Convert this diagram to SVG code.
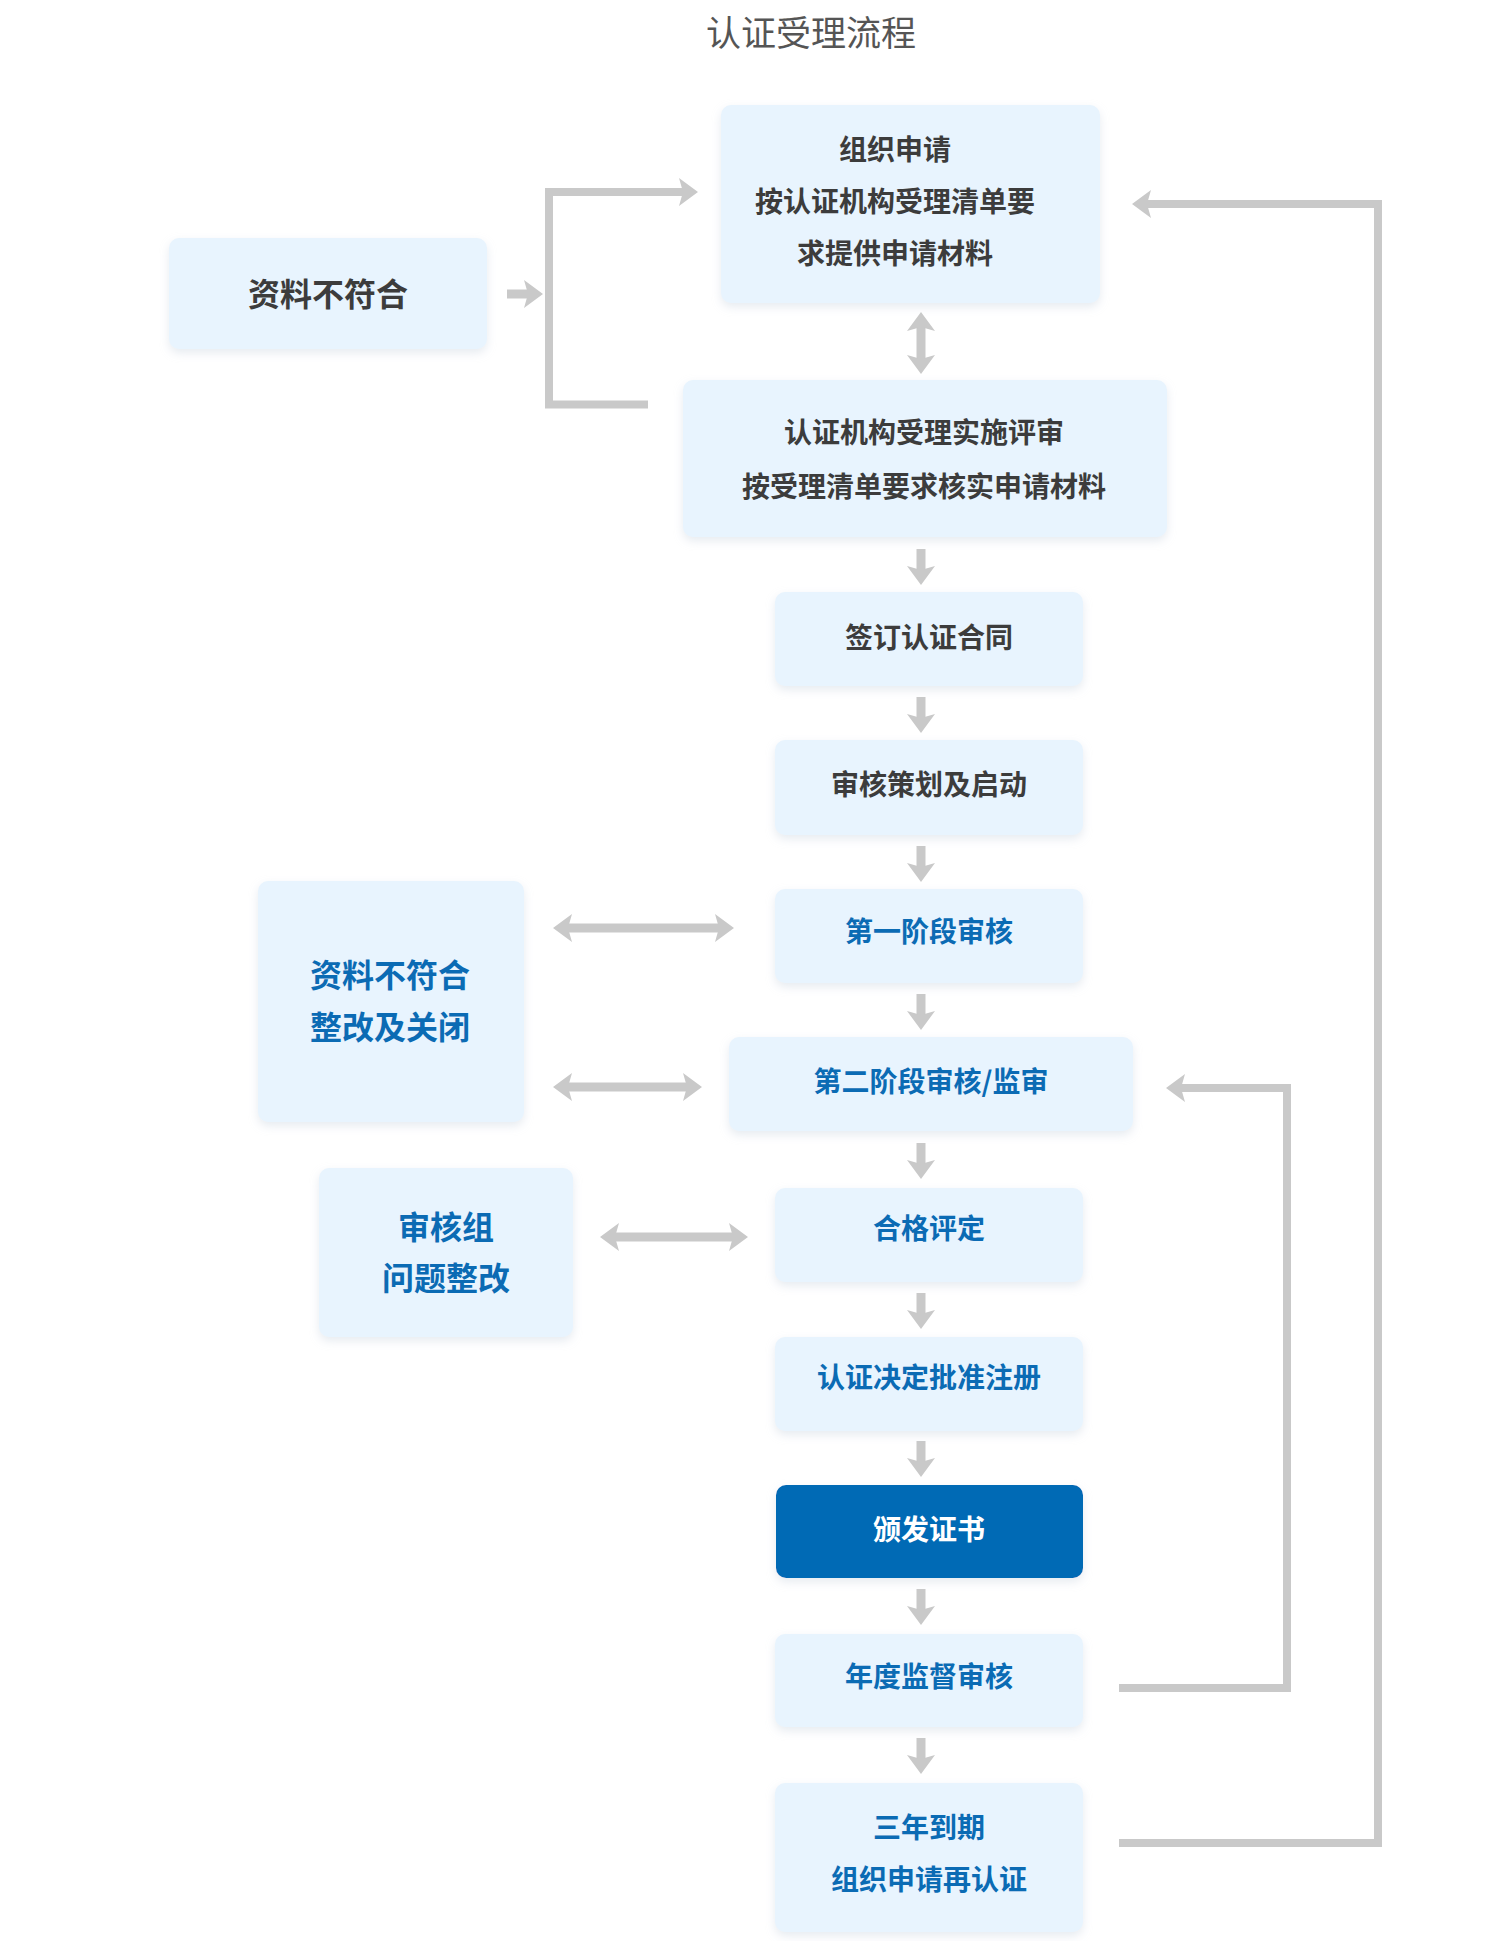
<svg xmlns="http://www.w3.org/2000/svg" width="1500" height="1941" viewBox="0 0 1500 1941">
<style>
.box{fill:#E8F4FE;filter:url(#sh)}
.dark{fill:#006AB5;filter:url(#sh)}
text{font-family:"Noto Sans CJK SC","Noto Sans",sans-serif;text-anchor:middle;dominant-baseline:central;font-weight:bold}
.t28{font-size:28px}
.t32{font-size:32px}
.g{fill:#3C3C3C}
.b{fill:#0B6BB4}
.w{fill:#FFFFFF}
.title{font-size:35px;font-weight:normal;fill:#555555}
.ln{fill:none;stroke:#C9C9C9;stroke-width:8;stroke-linejoin:miter}
.ar{fill:none;stroke:#C9C9C9;stroke-width:9}
.e{marker-end:url(#ah)}
.s{marker-start:url(#ah)}
</style>
<defs>
<filter id="sh" x="-10%" y="-10%" width="120%" height="130%">
<feDropShadow dx="0" dy="4" stdDeviation="5" flood-color="#B9C6D4" flood-opacity="0.35"/>
</filter>
<marker id="ah" viewBox="0 -14 19 28" refX="4" refY="0" markerWidth="19" markerHeight="28" markerUnits="userSpaceOnUse" orient="auto-start-reverse">
<path d="M19 0 L0 -14 L4 0 L0 14 Z" fill="#C9C9C9"/>
</marker>
</defs>

<text class="title" x="811" y="30">认证受理流程</text>

<g id="connectors">
<line class="ar e" x1="507" y1="294" x2="528" y2="294"/>
<polyline class="ln e" points="648,404.5 549,404.5 549,192 683,192"/>
<line class="ar e s" x1="921" y1="327" x2="921" y2="359"/>
<polyline class="ln e" points="1119,1843 1378,1843 1378,204 1147,204"/>
<polyline class="ln e" points="1119,1688 1287,1688 1287,1088 1181,1088"/>
<line class="ar e s" x1="568" y1="928" x2="719" y2="928"/>
<line class="ar e s" x1="568" y1="1087" x2="687" y2="1087"/>
<line class="ar e s" x1="615" y1="1237" x2="733" y2="1237"/>
<line class="ar e" x1="921" y1="549" x2="921" y2="570"/>
<line class="ar e" x1="921" y1="697" x2="921" y2="718"/>
<line class="ar e" x1="921" y1="846" x2="921" y2="867"/>
<line class="ar e" x1="921" y1="994" x2="921" y2="1015"/>
<line class="ar e" x1="921" y1="1143" x2="921" y2="1164"/>
<line class="ar e" x1="921" y1="1293" x2="921" y2="1314"/>
<line class="ar e" x1="921" y1="1441" x2="921" y2="1462"/>
<line class="ar e" x1="921" y1="1589" x2="921" y2="1610"/>
<line class="ar e" x1="921" y1="1738" x2="921" y2="1759"/>
</g>

<g id="n-reject1">
<rect class="box" x="169" y="238" width="318" height="111" rx="10"/>
<text class="t32 g" x="328" y="292">资料不符合</text>
</g>
<g id="n-apply">
<rect class="box" x="721" y="105" width="379" height="198" rx="10"/>
<text class="t28 g" x="895" y="148">组织申请</text>
<text class="t28 g" x="895" y="200">按认证机构受理清单要</text>
<text class="t28 g" x="895" y="252">求提供申请材料</text>
</g>
<g id="n-review">
<rect class="box" x="683" y="380" width="484" height="157" rx="10"/>
<text class="t28 g" x="924" y="431">认证机构受理实施评审</text>
<text class="t28 g" x="924" y="485">按受理清单要求核实申请材料</text>
</g>
<g id="n-contract">
<rect class="box" x="775" y="592" width="308" height="94" rx="10"/>
<text class="t28 g" x="929" y="636">签订认证合同</text>
</g>
<g id="n-plan">
<rect class="box" x="775" y="740" width="308" height="95" rx="10"/>
<text class="t28 g" x="929" y="783">审核策划及启动</text>
</g>
<g id="n-stage1">
<rect class="box" x="775" y="889" width="308" height="94" rx="10"/>
<text class="t28 b" x="929" y="930">第一阶段审核</text>
</g>
<g id="n-stage2">
<rect class="box" x="729" y="1037" width="404" height="94" rx="10"/>
<text class="t28 b" x="931" y="1080">第二阶段审核/监审</text>
</g>
<g id="n-eval">
<rect class="box" x="775" y="1188" width="308" height="94" rx="10"/>
<text class="t28 b" x="929" y="1227">合格评定</text>
</g>
<g id="n-decide">
<rect class="box" x="775" y="1337" width="308" height="94" rx="10"/>
<text class="t28 b" x="929" y="1376">认证决定批准注册</text>
</g>
<g id="n-issue">
<rect class="dark" x="776" y="1485" width="307" height="93" rx="10"/>
<text class="t28 w" x="929" y="1528">颁发证书</text>
</g>
<g id="n-annual">
<rect class="box" x="775" y="1634" width="308" height="93" rx="10"/>
<text class="t28 b" x="929" y="1675">年度监督审核</text>
</g>
<g id="n-renew">
<rect class="box" x="775" y="1783" width="308" height="149" rx="10"/>
<text class="t28 b" x="929" y="1826">三年到期</text>
<text class="t28 b" x="929" y="1878">组织申请再认证</text>
</g>
<g id="n-reject2">
<rect class="box" x="258" y="881" width="266" height="241" rx="10"/>
<text class="t32 b" x="390" y="973">资料不符合</text>
<text class="t32 b" x="390" y="1025">整改及关闭</text>
</g>
<g id="n-team">
<rect class="box" x="319" y="1168" width="254" height="169" rx="10"/>
<text class="t32 b" x="446" y="1225">审核组</text>
<text class="t32 b" x="446" y="1276">问题整改</text>
</g>
</svg>
